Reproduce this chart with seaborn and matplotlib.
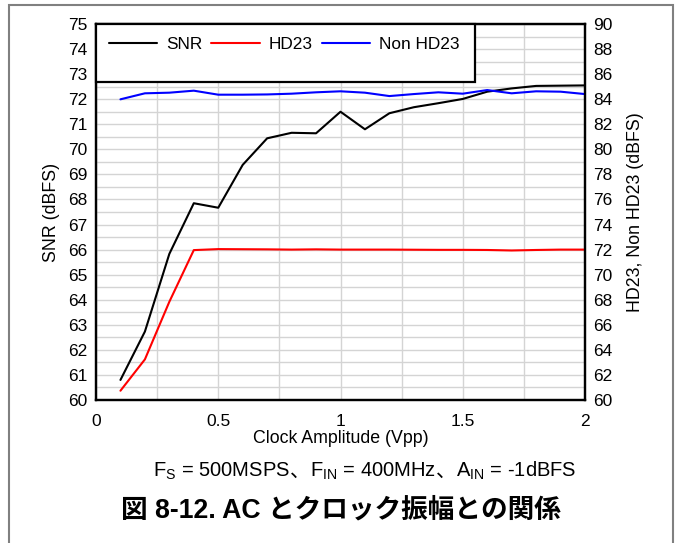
import numpy as np
import pandas as pd
import matplotlib
matplotlib.use("Agg")
import matplotlib.pyplot as plt
import seaborn as sns
from matplotlib.patches import Rectangle
from matplotlib.ticker import MultipleLocator
from matplotlib.offsetbox import TextArea, HPacker, AnchoredOffsetbox

# values
clock_vpp = [0.1, 0.2, 0.3, 0.4, 0.5, 0.6, 0.7, 0.8, 0.9, 1.0,
             1.1, 1.2, 1.3, 1.4, 1.5, 1.6, 1.7, 1.8, 1.9, 2.0]
snr = [60.8, 62.73, 65.83, 67.85, 67.67, 69.38, 70.44, 70.66, 70.64, 71.5,
       70.8, 71.44, 71.68, 71.84, 72.01, 72.3, 72.43, 72.53, 72.54, 72.55]
hd23 = [60.74, 63.24, 67.84, 71.96, 72.04, 72.03, 72.02, 72.0, 72.02, 72.0,
        72.0, 72.0, 71.99, 71.98, 71.98, 71.97, 71.93, 71.97, 72.0, 72.0]
non_hd23 = [83.99, 84.47, 84.52, 84.68, 84.36, 84.36, 84.38, 84.44, 84.55, 84.63,
            84.52, 84.25, 84.41, 84.55, 84.44, 84.73, 84.47, 84.63, 84.6, 84.41]

df = pd.DataFrame({"clock": clock_vpp, "SNR": snr, "HD23": hd23, "Non HD23": non_hd23})

sns.set_style("white")
plt.rcParams["font.family"] = ["Liberation Sans", "Noto Sans CJK JP"]
plt.rcParams["mathtext.fontset"] = "custom"
plt.rcParams["mathtext.rm"] = "Liberation Sans"
plt.rcParams["mathtext.it"] = "Liberation Sans:italic"
plt.rcParams["mathtext.bf"] = "Liberation Sans:bold"
for k in ["text.color", "axes.labelcolor", "xtick.color", "ytick.color"]:
    plt.rcParams[k] = "black"

fig = plt.figure(figsize=(6.76, 5.43), dpi=100)
ax = fig.add_axes([96 / 676, 1 - 400 / 543, 489 / 676, 376 / 543])
ax2 = ax.twinx()

sns.lineplot(data=df, x="clock", y="SNR", ax=ax, color="black", lw=1.5, label="SNR", legend=False)
sns.lineplot(data=df, x="clock", y="HD23", ax=ax2, color="#ff0000", lw=1.5, label="HD23", legend=False)
sns.lineplot(data=df, x="clock", y="Non HD23", ax=ax2, color="#0000ff", lw=1.5, label="Non HD23", legend=False)

ax.set_xlim(0, 2)
ax.set_ylim(60, 75)
ax2.set_ylim(60, 90)
ax.xaxis.set_major_locator(MultipleLocator(0.5))
ax.xaxis.set_minor_locator(MultipleLocator(0.25))
ax.yaxis.set_major_locator(MultipleLocator(1))
ax.yaxis.set_minor_locator(MultipleLocator(0.5))
ax2.yaxis.set_major_locator(MultipleLocator(2))
ax.set_xticks([0, 0.5, 1, 1.5, 2], ["0", "0.5", "1", "1.5", "2"])

ax.grid(True, which="both", color="#d4d4d4", lw=1.0)
ax.set_axisbelow(True)
ax.tick_params(which="both", length=0, labelsize=12.5)
ax.tick_params(axis="y", pad=6)
ax.tick_params(axis="x", pad=10)
ax2.tick_params(which="both", length=0, labelsize=12.5, pad=6)

ax.set_xlabel("Clock Amplitude (Vpp)", fontsize=12.8, labelpad=1)
ax.set_ylabel("SNR (dBFS)", fontsize=12.8, labelpad=6)
ax2.set_ylabel("HD23, Non HD23 (dBFS)", fontsize=12.8, labelpad=10)

for a in (ax, ax2):
    for s in a.spines.values():
        s.set_color("black")
        s.set_linewidth(1.6)

# legend box, drawn at figure level so it hides the grid
fig.add_artist(Rectangle((0, 0.846), 0.775, 0.154, transform=ax.transAxes,
                         facecolor="white", edgecolor="black", lw=1.6, zorder=3))
handles = ax.get_lines()[:1] + ax2.get_lines()[:2]
leg = fig.legend(handles, ["SNR", "HD23", "Non HD23"], loc="upper left", ncol=3,
                 frameon=False, fontsize=12.4, handlelength=2.8, handletextpad=0.5,
                 columnspacing=0.55, bbox_to_anchor=(0.0, 1.0), bbox_transform=ax.transAxes,
                 borderaxespad=0.35)
leg.set_zorder(4)

# outer frame
fig.add_artist(Rectangle((9 / 676, -0.05), 664 / 676, 1.05 - 5 / 543, transform=fig.transFigure,
                         fill=False, edgecolor="#808080", lw=1.5))

# condition line with subscripts
parts = [r"F$_\mathregular{S}$ = 500MSPS", "、", r"F$_\mathregular{IN}$ = 400MHz", "、",
         r"A$_\mathregular{IN}$ = -1dBFS"]
boxes = [TextArea(p, textprops=dict(fontsize=14.5, color="black")) for p in parts]
pack = HPacker(children=boxes, align="baseline", pad=0, sep=0)
anch = AnchoredOffsetbox(loc="center", child=pack, frameon=False, pad=0, borderpad=0,
                         bbox_to_anchor=(365 / 676, 1 - 471 / 543), bbox_transform=fig.transFigure)
fig.add_artist(anch)

fig.text(341 / 676, 1 - 511 / 543, "図 8-12. AC とクロック振幅との関係", ha="center", va="center",
         fontsize=19.2, fontweight="bold")

fig.savefig("out.png", dpi=100)
